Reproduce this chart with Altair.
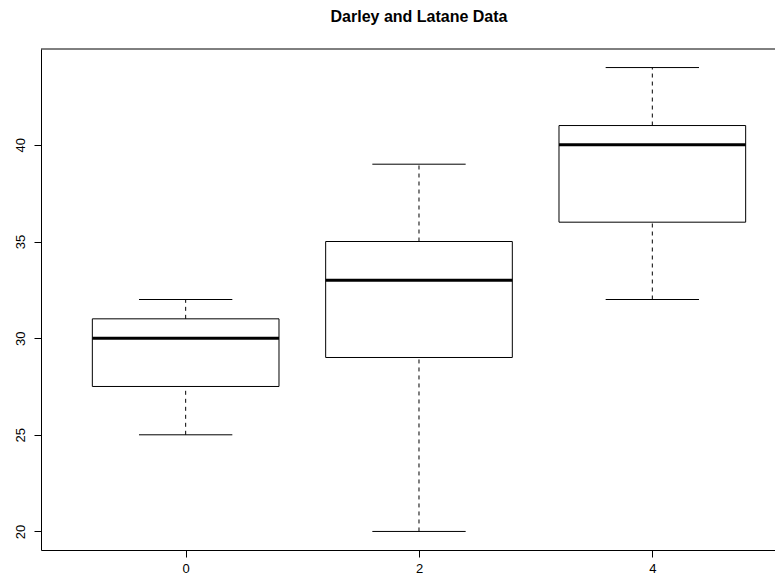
import altair as alt
import pandas as pd

groups = ["0", "2", "4"]
positions = [1, 2, 3]
lower_whisker = [25, 20, 32]
q1 = [27.5, 29, 36]
median = [30, 33, 40]
q3 = [31, 35, 41]
upper_whisker = [32, 39, 44]

BOXWEX = 0.8
STAPLEWEX = 0.4

df = pd.DataFrame({
    "pos": positions,
    "group": groups,
    "lw": lower_whisker,
    "q1": q1,
    "med": median,
    "q3": q3,
    "uw": upper_whisker,
})
df["bl"] = df["pos"] - BOXWEX / 2
df["br"] = df["pos"] + BOXWEX / 2
df["cl"] = df["pos"] - STAPLEWEX / 2
df["cr"] = df["pos"] + STAPLEWEX / 2

label_expr = " : ".join(
    [f"datum.value == {p} ? '{g}'" for p, g in zip(positions, groups)]
) + " : ''"

FONT = "Liberation Sans"
W, H = 734, 501

xscale = alt.Scale(domain=[0.38, 0.38 + W / 233.33], nice=False, zero=False)
yscale = alt.Scale(domain=[19.04, 44.96], nice=False, zero=False)

xaxis = alt.Axis(values=positions, labelExpr=label_expr, grid=False,
                 tickSize=7, labelPadding=18, labelBaseline="bottom",
                 labelFontSize=13, labelFont=FONT, labelColor="black",
                 tickColor="black", domainColor="black", title=None)
yaxis = alt.Axis(values=[20, 25, 30, 35, 40], grid=False, tickSize=7,
                 labelAngle=270, labelAlign="center", labelBaseline="alphabetic",
                 labelPadding=10, labelFontSize=13, labelFont=FONT,
                 labelColor="black", tickColor="black", domainColor="black",
                 title=None)

base = alt.Chart(df)

box = base.mark_rect(fill="white", stroke="black", strokeWidth=1).encode(
    x=alt.X("bl:Q", scale=xscale, axis=xaxis), x2="br:Q",
    y=alt.Y("q1:Q", scale=yscale, axis=yaxis), y2="q3:Q",
)
med = base.mark_rule(color="black", strokeWidth=3).encode(
    x=alt.X("bl:Q", scale=xscale, axis=xaxis), x2="br:Q",
    y=alt.Y("med:Q", scale=yscale, axis=yaxis),
)
wlow = base.mark_rule(color="black", strokeWidth=1, strokeDash=[4, 4]).encode(
    x=alt.X("pos:Q", scale=xscale, axis=xaxis),
    y=alt.Y("lw:Q", scale=yscale, axis=yaxis), y2="q1:Q",
)
whigh = base.mark_rule(color="black", strokeWidth=1, strokeDash=[4, 4]).encode(
    x=alt.X("pos:Q", scale=xscale, axis=xaxis),
    y=alt.Y("q3:Q", scale=yscale, axis=yaxis), y2="uw:Q",
)
caplow = base.mark_rule(color="black", strokeWidth=1).encode(
    x=alt.X("cl:Q", scale=xscale, axis=xaxis), x2="cr:Q",
    y=alt.Y("lw:Q", scale=yscale, axis=yaxis),
)
caphigh = base.mark_rule(color="black", strokeWidth=1).encode(
    x=alt.X("cl:Q", scale=xscale, axis=xaxis), x2="cr:Q",
    y=alt.Y("uw:Q", scale=yscale, axis=yaxis),
)
topframe = alt.Chart(pd.DataFrame({"a": [0]})).mark_rule(color="black", strokeWidth=1).encode(
    x=alt.value(0), x2=alt.value(W), y=alt.value(0)
)

chart = alt.layer(box, wlow, whigh, caplow, caphigh, med, topframe).properties(
    width=W, height=H,
    title=alt.TitleParams("Darley and Latane Data", fontSize=16, font=FONT,
                          fontWeight="bold", color="black", anchor="middle",
                          frame="group", dx=11, offset=11, baseline="alphabetic"),
    autosize=alt.AutoSizeParams(type="none"),
    padding={"left": 33, "top": 41, "right": 0, "bottom": 26},
    background="white",
).configure_view(stroke=None)

chart.save("out.html", embed_options={"renderer": "svg", "actions": False})
